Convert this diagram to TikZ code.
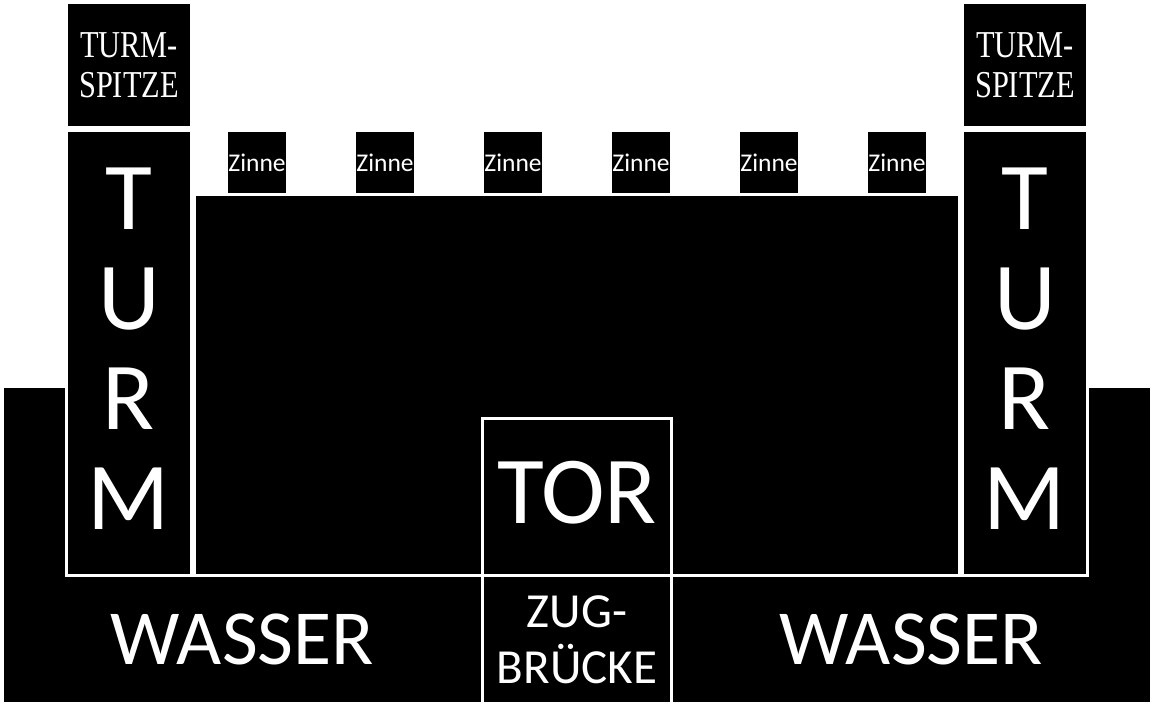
\documentclass[tikz,border=0pt]{standalone}
\usepackage{fontspec}
\setmainfont{Carlito}
\newfontfamily\spitzefont{Liberation Serif}
\tikzset{
  blk/.style={rectangle, draw=white, line width=3pt, fill=black, inner sep=0pt, text=white},
  water/.style={rectangle, fill=black, inner sep=0pt, text=white},
  txt/.style={text=white, inner sep=0pt, align=center},
}
\begin{document}
\begin{tikzpicture}[x=1pt,y=-1pt]
\useasboundingbox[fill=white] (0,0) rectangle (1154,705);
% moat backdrop
\node[blk, minimum width=1149pt, minimum height=317pt] (moat) at (577,545) {};
% water and drawbridge
\node[water, minimum width=477pt, minimum height=125pt, font=\fontsize{78}{80}\selectfont] (wl) at (242.5,639.5) {WASSER};
\node[water, minimum width=477pt, minimum height=125pt, font=\fontsize{78}{80}\selectfont] (wr) at (911.5,639.5) {WASSER};
\node[blk, minimum width=189pt, minimum height=128pt, align=center, font=\fontsize{49}{56}\selectfont] (zug) at (577,639.5) {ZUG-\\BRÜCKE};
% wall
\node[blk, minimum width=765pt, minimum height=381pt] (wall) at (577,385) {};
% crenels
\foreach \i/\x in {1/257,2/385,3/513,4/641,5/769,6/897}{
  \node[blk, minimum width=61pt, minimum height=64pt, font=\fontsize{25.5}{28}\selectfont] (z\i) at (\x,162.5) {Zinne};
}
% gate
\node[blk, minimum width=189pt, minimum height=157pt, text depth=10pt, font=\fontsize{96}{100}\selectfont] (tor) at (577,497) {TOR};
% towers
\node[blk, minimum width=125pt, minimum height=445pt] (tl) at (129,353) {};
\node[blk, minimum width=125pt, minimum height=445pt] (tr) at (1025,353) {};
\node[txt, font=\fontsize{96}{100}\selectfont] (tltxt) at (tl.center) [yshift=4pt] {T\\U\\R\\M};
\node[txt, font=\fontsize{96}{100}\selectfont] (trtxt) at (tr.center) [yshift=4pt] {T\\U\\R\\M};
% tower tops
\node[blk, minimum width=125pt, minimum height=125pt, align=center, font=\spitzefont\fontsize{38}{40}\selectfont] (sl) at (129,65) {\scalebox{0.8}[1]{TURM-}\\\scalebox{0.8}[1]{SPITZE}};
\node[blk, minimum width=125pt, minimum height=125pt, align=center, font=\spitzefont\fontsize{38}{40}\selectfont] (sr) at (1025,65) {\scalebox{0.8}[1]{TURM-}\\\scalebox{0.8}[1]{SPITZE}};
\end{tikzpicture}
\end{document}
